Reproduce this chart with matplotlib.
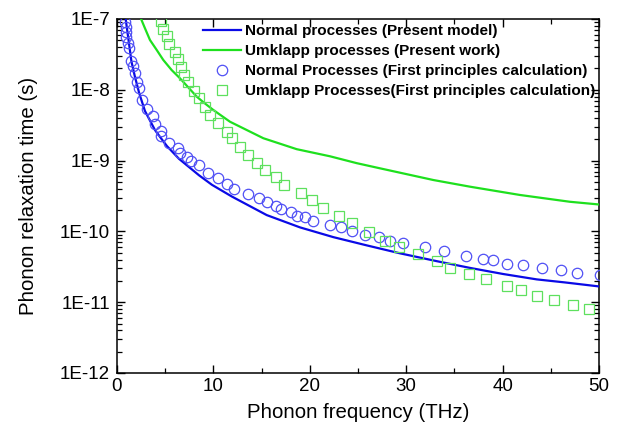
import numpy as np
import matplotlib
matplotlib.use('Agg')
import matplotlib.pyplot as plt
from matplotlib.ticker import (LogLocator, NullFormatter, FuncFormatter, MultipleLocator,
                               FixedLocator)

plt.rcParams['font.family'] = ['Liberation Sans', 'DejaVu Sans']

# ---------------- data ----------------
normal_model_freq = [0.9, 1.2, 1.5, 1.85, 2.3, 2.9, 3.94, 4.67, 5.19, 6.43, 8.51, 9.85,
                     11.93, 15.53, 18.98, 22.44, 25.90, 29.36, 33.16, 36.62, 40.07,
                     43.54, 46.5, 50.0]
normal_model_tau = [1.0e-7, 5.0e-8, 2.5e-8, 1.55e-8, 9.0e-9, 5.02e-9, 2.70e-9, 1.98e-9,
                    1.60e-9, 1.06e-9, 6.2e-10, 4.55e-10, 3.1e-10, 1.7e-10, 1.14e-10,
                    8.3e-11, 6.35e-11, 4.9e-11, 3.8e-11, 3.05e-11, 2.5e-11, 2.1e-11,
                    1.9e-11, 1.67e-11]

umklapp_model_freq = [2.5, 2.90, 3.42, 4.12, 4.80, 5.67, 6.54, 7.40, 8.27, 9.13, 9.99,
                      11.72, 15.18, 18.64, 22.10, 24.87, 27.28, 32.81, 36.62, 41.80,
                      46.99, 50.0]
umklapp_model_tau = [1.0e-7, 7.40e-8, 5.05e-8, 3.65e-8, 2.64e-8, 1.90e-8, 1.45e-8,
                     1.08e-8, 8.0e-9, 6.4e-9, 5.19e-9, 3.54e-9, 2.07e-9, 1.45e-9,
                     1.15e-9, 9.2e-10, 7.78e-10, 5.32e-10, 4.28e-10, 3.27e-10,
                     2.62e-10, 2.40e-10]

normal_fp_freq = [0.861, 0.934, 0.934, 0.934, 1.141, 1.276, 1.483, 1.629, 1.836, 2.054,
                  2.282, 2.593, 3.112, 3.703, 3.973, 4.595, 4.564, 5.446, 6.276, 6.587,
                  7.261, 7.676, 8.537, 9.388, 10.498, 11.390, 12.168, 13.620, 14.730,
                  15.591, 16.494, 17.012, 18.050, 18.703, 19.533, 20.363, 22.095,
                  23.205, 24.346, 25.757, 27.199, 28.371, 29.699, 31.981, 33.952,
                  36.172, 37.936, 39.035, 40.425, 42.147, 44.118, 46.089, 47.749, 50.10]
normal_fp_tau = [9.16e-8, 7.78e-8, 6.62e-8, 5.62e-8, 4.54e-8, 3.85e-8, 2.59e-8, 2.17e-8,
                 1.71e-8, 1.30e-8, 1.05e-8, 7.18e-9, 5.27e-9, 4.23e-9, 3.29e-9, 2.66e-9,
                 2.26e-9, 1.75e-9, 1.49e-9, 1.27e-9, 1.11e-9, 9.98e-10, 8.59e-10,
                 6.62e-10, 5.62e-10, 4.65e-10, 3.94e-10, 3.34e-10, 2.94e-10, 2.58e-10,
                 2.31e-10, 2.05e-10, 1.90e-10, 1.65e-10, 1.58e-10, 1.42e-10, 1.23e-10,
                 1.14e-10, 1.01e-10, 8.89e-11, 8.26e-11, 7.36e-11, 6.79e-11, 5.96e-11,
                 5.24e-11, 4.45e-11, 4.07e-11, 3.94e-11, 3.50e-11, 3.35e-11, 3.04e-11,
                 2.85e-11, 2.61e-11, 2.42e-11]

umklapp_fp_freq = [4.544, 4.803, 5.156, 5.446, 5.965, 6.359, 6.639, 7.002, 7.417, 7.936,
                   8.537, 9.129, 9.647, 10.446, 11.380, 11.981, 12.811, 13.641, 14.471,
                   15.353, 16.494, 17.272, 19.056, 20.197, 21.338, 22.998, 24.409,
                   26.110, 27.822, 29.232, 31.224, 33.195, 34.595, 36.546, 38.257,
                   40.488, 41.909, 43.600, 45.311, 47.272, 48.963]
umklapp_fp_tau = [9.31e-8, 7.28e-8, 5.75e-8, 4.48e-8, 3.45e-8, 2.70e-8, 2.12e-8, 1.64e-8,
                  1.27e-8, 9.77e-9, 7.59e-9, 5.77e-9, 4.41e-9, 3.43e-9, 2.56e-9, 2.07e-9,
                  1.57e-9, 1.20e-9, 9.40e-10, 7.43e-10, 5.81e-10, 4.52e-10, 3.45e-10,
                  2.78e-10, 2.12e-10, 1.67e-10, 1.33e-10, 9.91e-11, 7.40e-11, 6.05e-11,
                  4.76e-11, 3.85e-11, 3.01e-11, 2.48e-11, 2.13e-11, 1.72e-11, 1.47e-11,
                  1.24e-11, 1.07e-11, 9.12e-12, 8.02e-12]

labels = ['Normal processes (Present model)',
          'Umklapp processes (Present work)',
          'Normal Processes (First principles calculation)',
          'Umklapp Processes(First principles calculation)']

y_ticks = [1e-12, 1e-11, 1e-10, 1e-9, 1e-8, 1e-7]
y_tick_labels = ['1E-12', '1E-11', '1E-10', '1E-9', '1E-8', '1E-7']
x_ticks = [0, 10, 20, 30, 40, 50]

x_label = 'Phonon frequency (THz)'
y_label = 'Phonon relaxation time (s)'

# ---------------- figure ----------------
W, H = 618, 433
fig = plt.figure(figsize=(W / 100, H / 100), dpi=100)
ax = fig.add_axes([117 / W, 1 - 373 / H, 482 / W, 354 / H])

ax.plot(normal_model_freq, normal_model_tau, color='#0a0ae6', lw=1.6, label=labels[0], zorder=3)
ax.plot(umklapp_model_freq, umklapp_model_tau, color='#1ee01e', lw=1.6, label=labels[1], zorder=3)
ax.plot(normal_fp_freq, normal_fp_tau, ls='none', marker='o', ms=7.5, mfc='none',
        mec='#5050f5', mew=0.9, label=labels[2], zorder=4)
ax.plot(umklapp_fp_freq, umklapp_fp_tau, ls='none', marker='s', ms=6.5, mfc='none',
        mec='#5ee05e', mew=0.9, label=labels[3], zorder=4)

ax.set_yscale('log')
ax.set_xlim(0, 50)
ax.set_ylim(1e-12, 1e-7)

ax.set_xticks(x_ticks)
ax.xaxis.set_minor_locator(MultipleLocator(5))
ax.set_yticks(y_ticks)
ax.set_yticklabels(y_tick_labels)
ax.yaxis.set_minor_locator(LogLocator(base=10, subs=range(2, 10), numticks=20))
ax.yaxis.set_minor_formatter(NullFormatter())

ax.tick_params(which='both', direction='in', top=True, right=True, colors='black',
               labelsize=13.5)
ax.tick_params(which='major', length=6, width=1.0, pad=5)
ax.tick_params(axis='x', which='major', pad=3.5)
ax.tick_params(which='minor', length=3.5, width=0.9)
for s in ax.spines.values():
    s.set_linewidth(1.1)

ax.set_xlabel(x_label, fontsize=14.7, labelpad=6)
ax.set_ylabel(y_label, fontsize=14.7, labelpad=16)

leg = ax.legend(loc='upper left', bbox_to_anchor=(203 / W, 1 - 24 / H),
                bbox_transform=fig.transFigure, frameon=False,
                prop={'weight': 'bold', 'size': 11.0}, handlelength=2.5,
                handletextpad=0.22, labelspacing=0.4, borderpad=0, borderaxespad=0)

fig.savefig('out.png', dpi=100, facecolor='white')
